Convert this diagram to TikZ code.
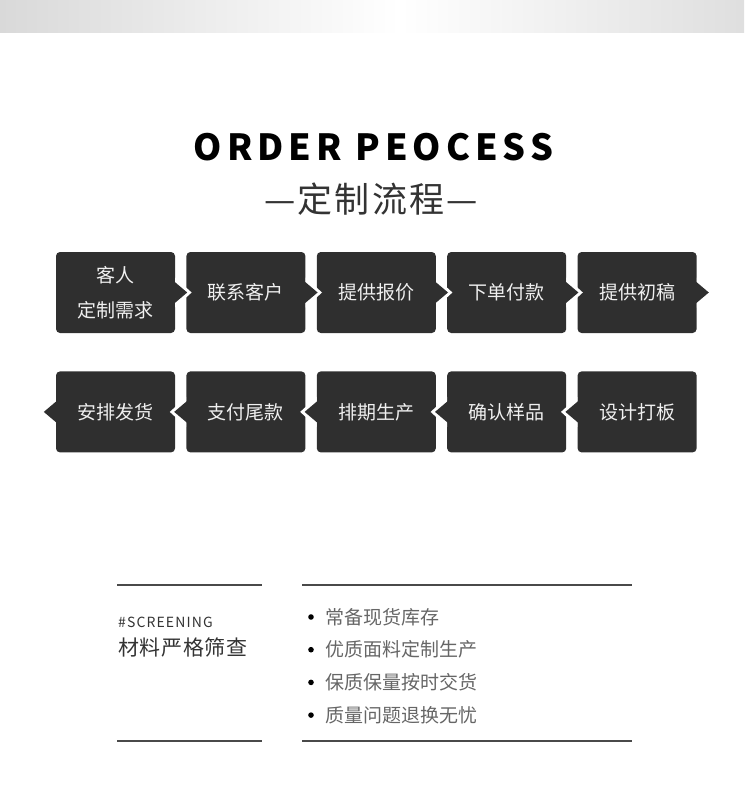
\documentclass[tikz,border=0pt]{standalone}
\usepackage{fontspec}
\setmainfont{Noto Sans CJK SC}
\usetikzlibrary{positioning}
\definecolor{boxgray}{HTML}{2F2F2F}
\definecolor{boxtext}{HTML}{F0F0F0}
\definecolor{rulegray}{HTML}{4A4A4A}
\definecolor{itemgray}{HTML}{666666}
\definecolor{headgray}{HTML}{333333}
\definecolor{bargray}{HTML}{D9D9D9}

\begin{document}
\begin{tikzpicture}[x=1pt, y=-1pt,
    node distance=38pt and 11pt,
    stepbox/.style={fill=boxgray, text=boxtext, rounded corners=4pt, minimum width=119pt, minimum height=81pt, inner sep=0pt, align=center, font=\fontsize{19}{35}\selectfont},
    item/.style={anchor=west, inner sep=0pt, text=itemgray, font=\fontsize{19}{19}\selectfont},
    rule/.style={draw=rulegray, line width=1.2pt}
  ]
  \useasboundingbox (0,0) rectangle (744,800);

  % top bar
  \shade[left color=bargray, right color=white] (0,0) rectangle (400,33);
  \shade[left color=white, right color=bargray!85] (400,0) rectangle (744,33);

  % title
  \node[font=\fontsize{36}{36}\selectfont\bfseries\addfontfeatures{LetterSpace=14}] (title) at (373.5,147) {ORDER PEOCESS};
  \node[font=\fontsize{35}{35}\selectfont\addfontfeatures{LetterSpace=6}, text=headgray] (subtitle) at (371,199) {—定制流程—};

  % steps
  \node[stepbox] (s1) at (115.5,292.5) {客人\\定制需求};
  \node[stepbox, right=of s1] (s2) {联系客户};
  \node[stepbox, right=of s2] (s3) {提供报价};
  \node[stepbox, right=of s3] (s4) {下单付款};
  \node[stepbox, right=of s4] (s5) {提供初稿};
  \node[stepbox, below=of s5] (s6) {设计打板};
  \node[stepbox, left=of s6] (s7) {确认样品};
  \node[stepbox, left=of s7] (s8) {排期生产};
  \node[stepbox, left=of s8] (s9) {支付尾款};
  \node[stepbox, left=of s9] (s10) {安排发货};

  % pointers
  \foreach \n in {s1,s2,s3,s4,s5} {
    \fill[white] (\n.east) ++(0,-15) -- ++(16.4,15) -- ++(-16.4,15) -- cycle;
    \fill[boxgray] (\n.east) ++(-1,-11) -- ++(13,11) -- ++(-13,11) -- cycle;
  }
  \foreach \n in {s6,s7,s8,s9,s10} {
    \fill[white] (\n.west) ++(0,-15) -- ++(-16.4,15) -- ++(16.4,15) -- cycle;
    \fill[boxgray] (\n.west) ++(1,-11) -- ++(-13,11) -- ++(13,11) -- cycle;
  }

  % screening
  \draw[rule] (117,585) -- (262,585);
  \draw[rule] (117,741) -- (262,741);
  \draw[rule] (302,585) -- (632,585);
  \draw[rule] (302,741) -- (632,741);
  \node[anchor=west, inner sep=0pt, text=headgray, font=\fontsize{14}{14}\selectfont\addfontfeatures{LetterSpace=8}] (tag) at (118,622) {\#SCREENING};
  \node[anchor=west, inner sep=0pt, text=headgray, font=\fontsize{21}{21}\selectfont\addfontfeatures{LetterSpace=3}] (head) at (118,647) {材料严格筛查};
  \foreach \txt [count=\i] in {常备现货库存, 优质面料定制生产, 保质保量按时交货, 质量问题退换无忧} {
    \node[item] (item\i) at (325, 584.3+32.7*\i) {\txt};
    \fill (item\i.west) ++(-14,0) circle (2.8);
  }
\end{tikzpicture}
\end{document}
